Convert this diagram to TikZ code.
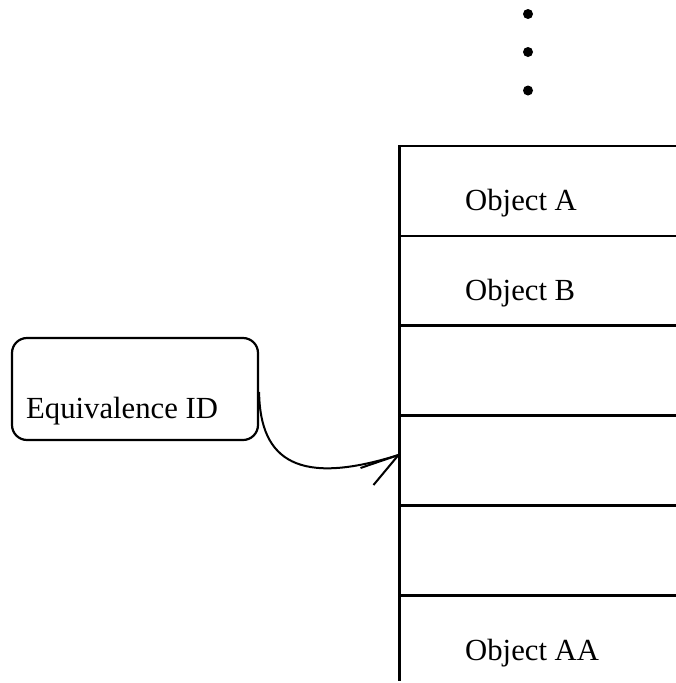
\documentclass[tikz,border=0pt]{standalone}
\usepackage{fontspec}
\setmainfont{Liberation Serif}
\begin{document}
\begin{tikzpicture}[x=1pt,y=-1pt,
  rule/.style={line width=2.4pt},
  lbl/.style={anchor=base west,inner sep=0pt,font=\fontsize{30.7}{36}\selectfont},
  dotmark/.style={fill=black,circle,inner sep=0pt,minimum size=10pt},
  idbox/.style={draw,line width=2.2pt,rounded corners=15pt,minimum width=246pt,minimum height=102pt,inner sep=0pt},
  conn/.style={line width=2pt}]
\useasboundingbox (0,0) rectangle (676,683);
% dots
\node[dotmark] (d1) at (528,14) {};
\node[dotmark] (d2) at (528,52) {};
\node[dotmark] (d3) at (528,90.5) {};
% stack
\draw[rule] (676,146) -- (399.5,146) -- (399.5,681);
\foreach \yy in {236,325.5,415.5,505.5,595.5}
  \draw[rule] (399.5,\yy) -- (676,\yy);
\node[lbl] (oa) at (465,210) {Object A};
\node[lbl] (ob) at (465,300) {Object B};
\node[lbl] (oaa) at (465,660) {Object AA};
% equivalence box
\node[idbox] (eq) at (135,389) {};
\node[lbl] (eqt) at (26,418) {Equivalence ID};
\coordinate (tip) at (398.5,455);
\coordinate (start) at ([yshift=-3pt]eq.east);
\draw[conn] (start) .. controls (260,462) and (300,486) .. (tip);
\draw[conn] (tip) -- ++(-25,30);
\draw[conn] (tip) -- ++(-38,13);
\end{tikzpicture}
\end{document}
